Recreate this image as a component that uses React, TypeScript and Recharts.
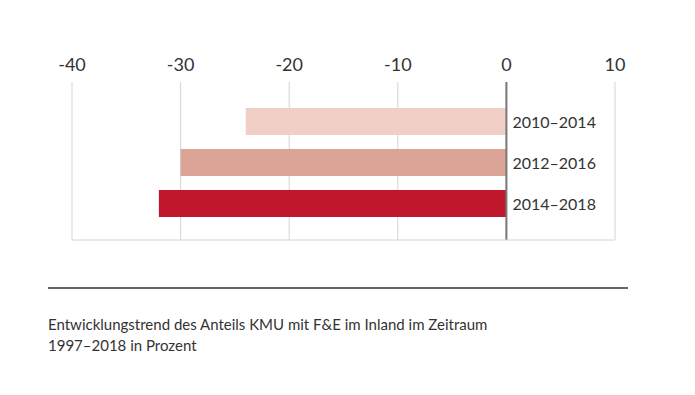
import { BarChart, Bar, XAxis, YAxis, CartesianGrid, ReferenceLine, LabelList, Cell } from "recharts";

const periods = ["2010–2014", "2012–2016", "2014–2018"];
const trendValues = [-24, -30, -32];
const barColors = ["#f2cfc6", "#dca496", "#c1172c"];
const xTicks = [-40, -30, -20, -10, 0, 10];

const data = periods.map((period, i) => ({ period, value: trendValues[i] }));

const FONT = "Lato, 'Open Sans', sans-serif";

const PeriodLabel = (props: any) => {
  const { x, y, width, height, value } = props;
  const right = Math.max(x, x + width);
  return (
    <text
      x={right + 6}
      y={y + height / 2}
      dominantBaseline="central"
      fill="#333"
      fontSize={16}
      fontFamily={FONT}
    >
      {value}
    </text>
  );
};

const App = () => {
  return (
    <div style={{ position: "absolute", left: 0, top: 0, width: 695, height: 395, background: "#fff", fontFamily: FONT }}>
      <BarChart
        width={695}
        height={260}
        data={data}
        layout="vertical"
        margin={{ top: 52, right: 80, bottom: 19, left: 72 }}
      >
        <CartesianGrid horizontal={false} stroke="#d4d4d4" />
        <XAxis
          type="number"
          orientation="top"
          domain={[-40, 10]}
          ticks={xTicks}
          height={30}
          axisLine={false}
          tickLine={false}
          tickSize={0}
          tickMargin={11}
          tick={{ fill: "#333", fontSize: 18, fontFamily: FONT }}
        />
        <XAxis
          xAxisId="bottom"
          type="number"
          orientation="bottom"
          domain={[-40, 10]}
          height={1}
          tick={false}
          tickLine={false}
          axisLine={{ stroke: "#d4d4d4" }}
        />
        <YAxis type="category" dataKey="period" hide padding={{ top: 19, bottom: 16 }} />
        <Bar dataKey="value" barSize={27} isAnimationActive={false}>
          {data.map((d, i) => (
            <Cell key={d.period} fill={barColors[i]} />
          ))}
          <LabelList dataKey="period" content={PeriodLabel} />
        </Bar>
        <ReferenceLine x={0} stroke="#777" strokeWidth={2} />
      </BarChart>
      <div style={{ position: "absolute", left: 48, top: 287, width: 580, height: 2, background: "#666" }} />
      <div
        style={{
          position: "absolute",
          left: 48,
          top: 314,
          width: 600,
          fontSize: 15,
          lineHeight: "21px",
          color: "#333",
        }}
      >
        Entwicklungstrend des Anteils KMU mit F&amp;E im Inland im Zeitraum
        <br />
        1997–2018 in Prozent
      </div>
    </div>
  );
};

export default App;
